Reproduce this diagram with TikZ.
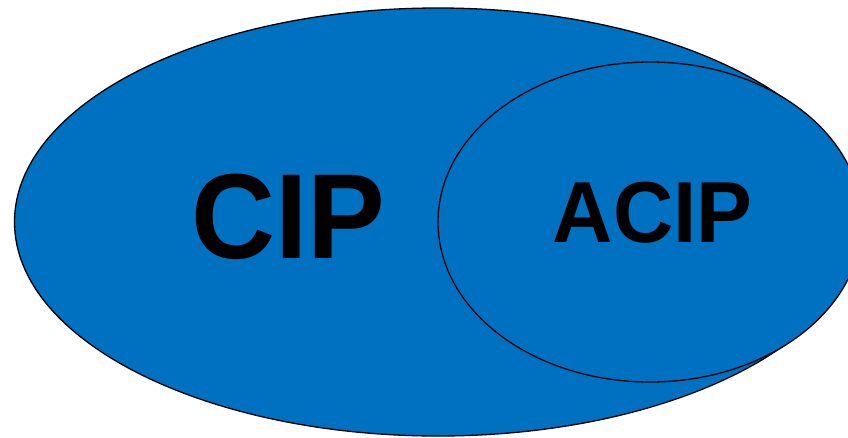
\documentclass[tikz,border=0pt]{standalone}
\usepackage{fontspec}
\setmainfont{Liberation Sans}
\usetikzlibrary{shapes.geometric}
\definecolor{setblue}{HTML}{0070C0}
\begin{document}
\begin{tikzpicture}[x=1pt,y=-1pt,
  setshape/.style={ellipse,draw=black,line width=1.3pt,fill=setblue,inner sep=0pt},
  setlabel/.style={anchor=base,inner sep=0pt,font=\bfseries}]
\useasboundingbox (0,0) rectangle (848,437);
\clip (0,0) rectangle (848,437);
\node[setshape,minimum width=847pt,minimum height=428pt] (cip) at (438,222) {};
\node[setshape,minimum width=424pt,minimum height=320pt] (acip) at (650,222) {};
\node[setlabel,font=\fontsize{121}{121}\selectfont\bfseries] (cipt) at (288.5,258) {\scalebox{0.962}[1]{CIP}};
\node[setlabel,font=\fontsize{86.6}{86.6}\selectfont\bfseries] (acipt) at (652.5,242) {\scalebox{0.965}[1]{ACIP}};
\end{tikzpicture}
\end{document}
